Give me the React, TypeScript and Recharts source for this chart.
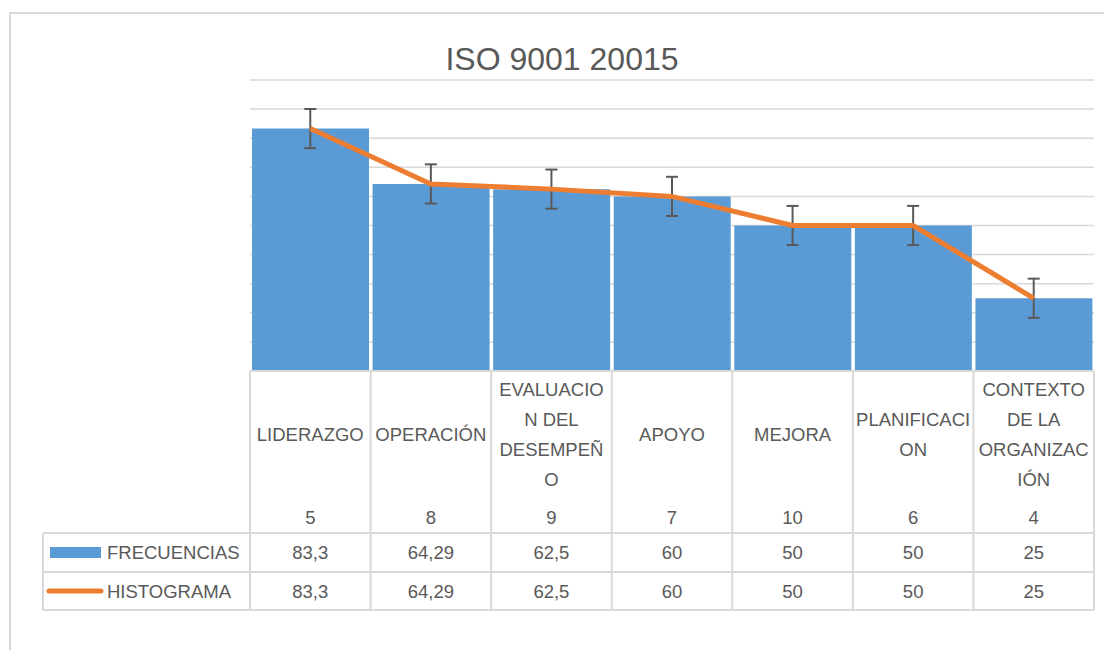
import { Bar, CartesianGrid, ComposedChart, ErrorBar, Line, XAxis, YAxis } from "recharts";

const CATEGORIES = [
  "LIDERAZGO",
  "OPERACIÓN",
  "EVALUACION DEL DESEMPEÑO",
  "APOYO",
  "MEJORA",
  "PLANIFICACION",
  "CONTEXTO DE LA ORGANIZACIÓN",
];

// wrapped the way the spreadsheet cells wrap them
const LABEL_LINES = [
  ["LIDERAZGO"],
  ["OPERACIÓN"],
  ["EVALUACIO", "N DEL", "DESEMPEÑ", "O"],
  ["APOYO"],
  ["MEJORA"],
  ["PLANIFICACI", "ON"],
  ["CONTEXTO", "DE LA", "ORGANIZAC", "IÓN"],
];

const COUNTS = [5, 8, 9, 7, 10, 6, 4];
const FRECUENCIAS = [83.3, 64.29, 62.5, 60, 50, 50, 25];
const HISTOGRAMA = [83.3, 64.29, 62.5, 60, 50, 50, 25];
const ERRORS = [6.73, 6.73, 6.73, 6.73, 6.73, 6.73, 6.73];
const Y_TICKS = [0, 10, 20, 30, 40, 50, 60, 70, 80, 90, 100];

const W = 1104;
const H = 650;
const PLOT_LEFT = 250;
const PLOT_RIGHT = 1094;
const PLOT_TOP = 80;
const PLOT_BOTTOM = 371;
const ROW1_TOP = 533;
const ROW2_TOP = 572;
const TABLE_BOTTOM = 610;
const LEGEND_LEFT = 43;
const X_AXIS_H = 240;
const BAND = (PLOT_RIGHT - PLOT_LEFT) / CATEGORIES.length;

const BLUE = "#5B9BD5";
const ORANGE = "#ED7D31";
const TEXT = "#595959";
const BORDER = "#d9d9d9";
const FONT = "'Liberation Sans', Arial, sans-serif";
const FONT_SIZE = 18.5;

const data = CATEGORIES.map((name, i) => ({
  name,
  frecuencias: FRECUENCIAS[i],
  histograma: HISTOGRAMA[i],
  err: ERRORS[i],
}));

const fmt = (v: number) => String(v).replace(".", ",");

function TableTick(props: any) {
  const { x, payload } = props;
  const i = CATEGORIES.indexOf(payload.value);
  if (i < 0) return null;
  const lines = LABEL_LINES[i];
  const left = x - BAND / 2;
  const right = x + BAND / 2;
  const firstY = 434 - ((lines.length - 1) * 30) / 2;
  const txt = {
    textAnchor: "middle" as const,
    dominantBaseline: "central" as const,
    fill: TEXT,
    fontSize: FONT_SIZE,
    fontFamily: FONT,
  };
  return (
    <g>
      <line x1={left} x2={left} y1={PLOT_BOTTOM} y2={TABLE_BOTTOM} stroke={BORDER} strokeWidth={2} />
      {i === CATEGORIES.length - 1 && (
        <line x1={right} x2={right} y1={PLOT_BOTTOM} y2={TABLE_BOTTOM} stroke={BORDER} strokeWidth={2} />
      )}
      {lines.map((t, k) => (
        <text key={k} x={x} y={firstY + k * 30} {...txt}>
          {t}
        </text>
      ))}
      <text x={x} y={517} {...txt}>
        {COUNTS[i]}
      </text>
      <text x={x} y={552} {...txt}>
        {fmt(FRECUENCIAS[i])}
      </text>
      <text x={x} y={591} {...txt}>
        {fmt(HISTOGRAMA[i])}
      </text>
    </g>
  );
}

function Overlay() {
  const txt = {
    dominantBaseline: "central" as const,
    fill: TEXT,
    fontSize: FONT_SIZE,
    fontFamily: FONT,
  };
  return (
    <svg
      width={W}
      height={H}
      style={{ position: "absolute", left: 0, top: 0, pointerEvents: "none" }}
    >
      <text x={562} y={59} textAnchor="middle" {...txt} fontSize={32}>
        ISO 9001 20015
      </text>
      {[ROW1_TOP, ROW2_TOP, TABLE_BOTTOM].map((y) => (
        <line key={y} x1={LEGEND_LEFT} x2={PLOT_RIGHT} y1={y} y2={y} stroke={BORDER} strokeWidth={2} />
      ))}
      <line x1={LEGEND_LEFT} x2={LEGEND_LEFT} y1={ROW1_TOP} y2={TABLE_BOTTOM} stroke={BORDER} strokeWidth={2} />
      <rect x={50} y={547} width={51} height={11} fill={BLUE} />
      <text x={107} y={552} {...txt}>
        FRECUENCIAS
      </text>
      <line x1={49} x2={101} y1={591} y2={591} stroke={ORANGE} strokeWidth={5} strokeLinecap="round" />
      <text x={107} y={591} {...txt}>
        HISTOGRAMA
      </text>
    </svg>
  );
}

export default function App() {
  return (
    <div style={{ position: "absolute", left: 0, top: 0, width: W, height: H, background: "#fff", overflow: "hidden" }}>
      <div
        style={{
          position: "absolute",
          left: 9,
          top: 12,
          width: 1300,
          height: 900,
          borderLeft: `2px solid ${BORDER}`,
          borderTop: `2px solid ${BORDER}`,
        }}
      />
      <div style={{ position: "absolute", left: 0, top: 0 }}>
        <ComposedChart
          width={W}
          height={H}
          data={data}
          barCategoryGap={2}
          margin={{ top: PLOT_TOP, left: PLOT_LEFT, right: W - PLOT_RIGHT, bottom: H - PLOT_BOTTOM - X_AXIS_H }}
        >
          <CartesianGrid vertical={false} stroke={BORDER} strokeWidth={1.5} />
          <XAxis
            dataKey="name"
            height={X_AXIS_H}
            axisLine={{ stroke: BORDER, strokeWidth: 2 }}
            tickLine={false}
            interval={0}
            tick={<TableTick />}
          />
          <YAxis hide width={0} domain={[0, 100]} ticks={Y_TICKS} />
          <Bar dataKey="frecuencias" fill={BLUE} isAnimationActive={false} />
          <Line
            dataKey="histograma"
            type="linear"
            stroke={ORANGE}
            strokeWidth={5}
            dot={false}
            isAnimationActive={false}
          >
            <ErrorBar dataKey="err" direction="y" width={6} stroke={TEXT} strokeWidth={2} />
          </Line>
        </ComposedChart>
      </div>
      <Overlay />
    </div>
  );
}
